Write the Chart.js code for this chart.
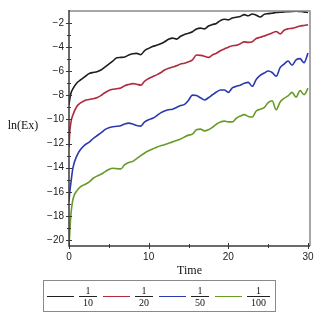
<!DOCTYPE html>
<html>
<head>
<meta charset="utf-8">
<script src="https://cdn.jsdelivr.net/npm/chart.js@4.4.1/dist/chart.umd.min.js"></script>
<style>
  html, body { margin: 0; padding: 0; background: #fff; }
  #wrap { position: relative; width: 319px; height: 319px; }
  #legend {
    position: absolute; left: 43px; top: 280px; width: 228px; height: 30px;
    border: 1.5px solid #8a8a8a; display: flex; align-items: center;
    font-family: "Liberation Serif", serif; font-size: 10px; color: #111;
    padding-left: 3px; box-sizing: content-box;
  }
  .item { display: flex; align-items: center; }
  .swatch { display: inline-block; width: 27px; height: 0; border-top: 1.6px solid; margin-right: 5px; }
  .frac { display: inline-flex; flex-direction: column; align-items: center; margin-right: 6px; line-height: 9px; }
  .num { padding: 0 4px 1px; }
  .bar { width: 100%; border-top: 1px solid #222; }
  .den { padding: 1px 4px 0; }
</style>
</head>
<body>
<div id="wrap">
  <canvas id="c" width="319" height="319"></canvas>
  <div id="legend"></div>
</div>
<script>
// ---------------- data ----------------
const time = [0, 0.1, 0.25, 0.5, 1, 1.5, 2, 2.5, 3, 3.5, 4, 4.5, 5, 5.5, 6, 6.5, 7, 7.5, 8, 8.5, 9, 9.5, 10,
  10.5, 11, 11.5, 12, 12.5, 13, 13.5, 14, 14.5, 15, 15.5, 16, 16.5, 17, 17.5, 18, 18.5, 19, 19.5, 20,
  20.5, 21, 21.5, 22, 22.5, 23, 23.5, 24, 24.5, 25, 25.5, 26, 26.5, 27, 27.5, 28, 28.5, 29, 29.5, 30];

const series10 = [-8.8, -8.3, -7.8, -7.45, -6.95, -6.7, -6.45, -6.2, -6.1, -6.05, -5.9, -5.65, -5.4, -5.15, -4.88, -4.85, -4.82, -4.65, -4.55, -4.52, -4.62, -4.28, -4.1,
  -3.95, -3.85, -3.72, -3.55, -3.35, -3.25, -3.33, -3.1, -2.95, -2.85, -2.72, -2.5, -2.42, -2.48, -2.25, -2.12, -2.03, -1.8, -1.68, -1.74,
  -1.58, -1.52, -1.45, -1.3, -1.4, -1.25, -1.35, -1.5, -1.28, -1.22, -1.18, -1.13, -1.1, -1.08, -1.05, -1.03, -1.02, -1.04, -1.07, -1.13];

const series20 = [-12.3, -11.0, -10.2, -9.6, -8.9, -8.6, -8.42, -8.35, -8.28, -8.2, -8.02, -7.78, -7.6, -7.5, -7.45, -7.38, -7.2, -7.1, -7.03, -7.08, -7.15, -6.82, -6.6,
  -6.45, -6.3, -6.12, -5.9, -5.75, -5.65, -5.55, -5.4, -5.33, -5.22, -5.05, -4.65, -4.68, -4.75, -4.85, -4.65, -4.5, -4.3, -4.15, -4.0,
  -3.88, -3.85, -3.72, -3.56, -3.6, -3.55, -3.28, -3.18, -3.08, -2.95, -2.82, -2.7, -2.9, -2.6, -2.48, -2.44, -2.35, -2.24, -2.2, -2.15];

const series50 = [-16.8, -16.0, -15.2, -14.0, -13.0, -12.45, -12.1, -11.9, -11.6, -11.35, -11.12, -10.85, -10.68, -10.6, -10.57, -10.52, -10.38, -10.3, -10.38, -10.5, -10.55, -10.2, -10.02,
  -9.9, -9.7, -9.45, -9.3, -9.2, -9.15, -9.0, -8.85, -8.75, -8.4, -7.98, -8.02, -8.2, -8.38, -8.2, -7.95, -7.72, -7.55, -7.55, -7.75,
  -7.38, -7.25, -7.16, -7.0, -6.92, -7.25, -6.68, -6.35, -6.15, -5.98, -6.1, -6.42, -5.7, -5.4, -5.15, -5.5, -5.05, -4.95, -5.3, -4.5];

const series100 = [-20.5, -19.3, -17.8, -16.6, -15.9, -15.55, -15.4, -15.2, -14.9, -14.7, -14.55, -14.35, -14.15, -14.05, -14.08, -14.1, -13.75, -13.58, -13.48, -13.25, -13.0, -12.78, -12.6,
  -12.45, -12.3, -12.18, -12.1, -11.98, -11.86, -11.75, -11.62, -11.45, -11.3, -11.22, -10.85, -10.8, -10.95, -10.85, -10.65, -10.4, -10.22, -10.14, -10.2,
  -10.2, -9.9, -9.72, -9.6, -9.75, -9.8, -9.3, -9.15, -9.02, -8.6, -8.45, -9.2, -8.55, -8.25, -8.05, -7.75, -8.15, -7.6, -7.95, -7.4];

const legendNumerators = ["1", "1", "1", "1"];
const legendDenominators = ["10", "20", "50", "100"];
const seriesColors = ["#1e1e1e", "#b02a3e", "#2a3aae", "#679c2a"];

const xTickValues = [0, 10, 20, 30];
const xMinorTicks = [5, 15, 25];
const yTickValues = [-20, -18, -16, -14, -12, -10, -8, -6, -4, -2];
const yMinorTicks = [-19, -17, -15, -13, -11, -9, -7, -5, -3];
const xTitle = "Time";
const yTitle = "ln(Ex)";

// ---------------- chart ----------------
const allSeries = [series10, series20, series50, series100];
const datasets = allSeries.map((vals, i) => ({
  label: legendNumerators[i] + "/" + legendDenominators[i],
  data: vals.map((v, k) => ({ x: time[k], y: v })),
  borderColor: seriesColors[i],
  backgroundColor: seriesColors[i],
  borderWidth: 1.6,
  pointRadius: 0,
  cubicInterpolationMode: 'monotone',
  fill: false
}));

const framePlugin = {
  id: 'frame',
  afterDraw(chart) {
    const { ctx, chartArea: a, scales: { x, y } } = chart;
    ctx.save();
    ctx.strokeStyle = '#8a8a8a';
    ctx.lineWidth = 1.5;
    ctx.beginPath();
    ctx.moveTo(a.left, a.top); ctx.lineTo(a.right, a.top); ctx.lineTo(a.right, a.bottom);
    ctx.stroke();
    ctx.strokeStyle = '#3a3a3a';
    ctx.lineWidth = 1.5;
    ctx.beginPath();
    ctx.moveTo(a.left, a.top - 1); ctx.lineTo(a.left, a.bottom); ctx.lineTo(a.right, a.bottom);
    ctx.stroke();
    ctx.lineWidth = 1;
    ctx.beginPath();
    yTickValues.forEach(v => { const p = Math.round(y.getPixelForValue(v)) + 0.5; ctx.moveTo(a.left - 3, p); ctx.lineTo(a.left + 3, p); });
    yMinorTicks.forEach(v => { const p = Math.round(y.getPixelForValue(v)) + 0.5; ctx.moveTo(a.left - 2, p); ctx.lineTo(a.left + 2, p); });
    xTickValues.forEach(v => { const p = Math.round(x.getPixelForValue(v)) + 0.5; ctx.moveTo(p, a.bottom - 3); ctx.lineTo(p, a.bottom + 3); });
    xMinorTicks.forEach(v => { const p = Math.round(x.getPixelForValue(v)) + 0.5; ctx.moveTo(p, a.bottom - 2); ctx.lineTo(p, a.bottom + 2); });
    ctx.stroke();
    ctx.fillStyle = '#111';
    ctx.font = '12px "Liberation Serif", serif';
    ctx.textAlign = 'center';
    ctx.textBaseline = 'middle';
    ctx.fillText(yTitle, 23, 126);
    ctx.restore();
  }
};

new Chart(document.getElementById('c'), {
  type: 'line',
  data: { datasets },
  options: {
    responsive: false,
    animation: false,
    layout: { padding: { left: 0, right: 9, top: 5, bottom: 41 } },
    plugins: { legend: { display: false }, tooltip: { enabled: false } },
    scales: {
      x: {
        type: 'linear', min: 0, max: 30.25,
        grid: { display: false, drawTicks: false },
        border: { display: false },
        afterBuildTicks: s => { s.ticks = xTickValues.map(v => ({ value: v })); },
        afterFit: s => { s.height = 32; },
        ticks: { padding: 5, color: '#222', font: { family: 'Liberation Sans', size: 10 }, maxRotation: 0 },
        title: { display: true, text: xTitle, color: '#111', padding: { top: 0, bottom: 0 }, font: { family: 'Liberation Serif', size: 12 } }
      },
      y: {
        type: 'linear', min: -20.5, max: -1,
        grid: { display: false, drawTicks: false },
        border: { display: false },
        afterBuildTicks: s => { s.ticks = yTickValues.map(v => ({ value: v })); },
        afterFit: s => { s.width = 69; },
        ticks: { padding: 5, color: '#222', font: { family: 'Liberation Sans', size: 10 },
          callback: v => String(v).replace('-', '\u2212') }
      }
    }
  },
  plugins: [framePlugin]
});

// ---------------- legend (HTML) ----------------
const lg = document.getElementById('legend');
legendDenominators.forEach((den, i) => {
  const item = document.createElement('div');
  item.className = 'item';
  item.innerHTML = '<span class="swatch" style="border-color:' + seriesColors[i] + '"></span>' +
    '<span class="frac"><span class="num">' + legendNumerators[i] + '</span><span class="bar"></span><span class="den">' + den + '</span></span>';
  lg.appendChild(item);
});
</script>
</body>
</html>
